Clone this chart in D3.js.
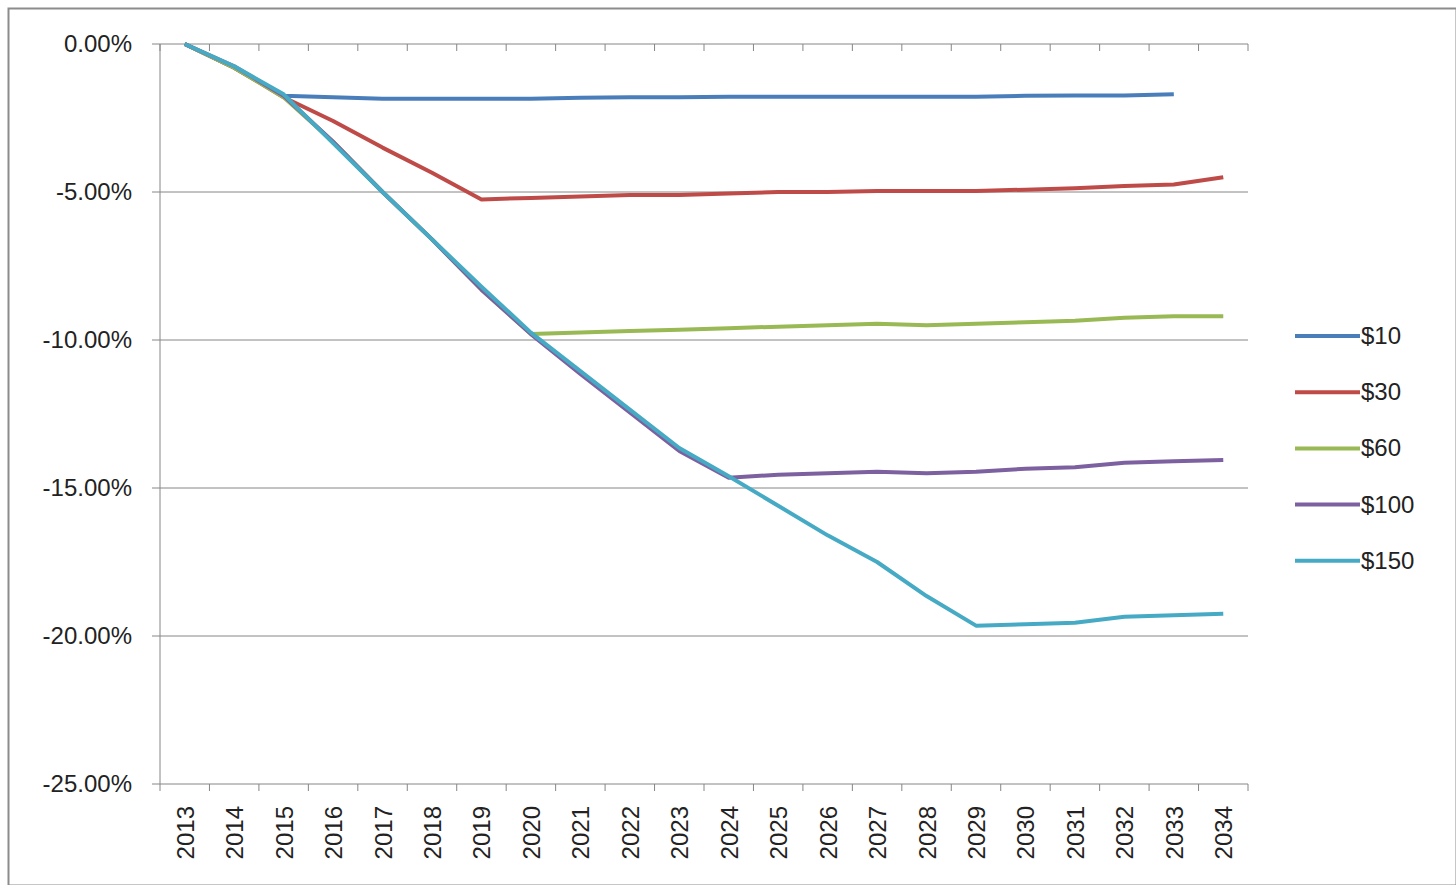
<!DOCTYPE html>
<html><head><meta charset="utf-8">
<script src="https://cdn.jsdelivr.net/npm/d3@7"></script>
<style>body{margin:0;background:#fff;font-family:"Liberation Sans",Arial,sans-serif}</style>
</head><body><div id="chart"></div>
<script>
// Data
var years = d3.range(2013, 2035).map(String);
var s10  = [0,-0.8,-1.75,-1.8,-1.85,-1.85,-1.85,-1.85,-1.82,-1.8,-1.8,-1.78,-1.78,-1.78,-1.78,-1.78,-1.78,-1.75,-1.74,-1.74,-1.7,null];
var s30  = [0,-0.8,-1.8,-2.6,-3.5,-4.35,-5.25,-5.2,-5.15,-5.1,-5.1,-5.05,-5.0,-5.0,-4.97,-4.97,-4.97,-4.92,-4.87,-4.8,-4.75,-4.5];
var s60  = [0,-0.8,-1.8,-3.3,-5.0,-6.6,-8.3,-9.8,-9.75,-9.7,-9.65,-9.6,-9.55,-9.5,-9.45,-9.5,-9.45,-9.4,-9.35,-9.25,-9.2,-9.2];
var s100 = [0,-0.75,-1.75,-3.3,-5.0,-6.6,-8.3,-9.8,-11.15,-12.45,-13.75,-14.65,-14.55,-14.5,-14.45,-14.5,-14.45,-14.35,-14.3,-14.15,-14.1,-14.05];
var s150 = [0,-0.75,-1.7,-3.35,-5.0,-6.6,-8.2,-9.75,-11.05,-12.35,-13.65,-14.6,-15.6,-16.6,-17.5,-18.65,-19.65,-19.6,-19.55,-19.35,-19.3,-19.25];
var names  = ['$10','$30','$60','$100','$150'];
var colors = ['#4a7ebb','#be4b48','#98b954','#7d60a0','#46aac5'];
var series = [s10, s30, s60, s100, s150];
var yTicks = [0,-5,-10,-15,-20,-25];

var W = 1456, H = 885, L = 160, R = 1248, T = 44, B = 784;
var svg = d3.select('#chart').append('svg').attr('width', W).attr('height', H);
svg.append('rect').attr('x', 8.5).attr('y', 8.5).attr('width', W - 8).attr('height', H - 8)
   .attr('fill', 'none').attr('stroke', '#8c8c8c').attr('stroke-width', 2);

var x = d3.scaleBand().domain(years).range([L, R]);
var y = d3.scaleLinear().domain([-25, 0]).range([B, T]);

// Gridlines
svg.selectAll('.grid').data(yTicks).enter().append('line')
   .attr('x1', L - 8).attr('x2', R).attr('y1', function(d){ return y(d); }).attr('y2', function(d){ return y(d); })
   .attr('stroke', '#868686').attr('stroke-width', 1);
svg.append('line').attr('x1', L).attr('x2', L).attr('y1', T).attr('y2', B).attr('stroke', '#868686');

// Y labels
svg.selectAll('.yl').data(yTicks).enter().append('text')
   .attr('x', 132).attr('y', function(d){ return y(d) + 8; }).attr('text-anchor', 'end')
   .attr('font-size', 24).attr('fill', '#222')
   .text(function(d){ return d.toFixed(2) + '%'; });

// X tick marks (axis crosses at 0)
var bounds = years.map(function(d){ return x(d); }).concat([R]);
svg.selectAll('.xt').data(bounds).enter().append('line')
   .attr('x1', function(d){ return d; }).attr('x2', function(d){ return d; })
   .attr('y1', T).attr('y2', T + 7).attr('stroke', '#868686');
svg.selectAll('.xtb').data(bounds).enter().append('line')
   .attr('x1', function(d){ return d; }).attr('x2', function(d){ return d; })
   .attr('y1', B).attr('y2', B + 7).attr('stroke', '#868686');

// X labels
svg.selectAll('.xl').data(years).enter().append('text')
   .attr('transform', function(d){ return 'translate(' + (x(d) + x.bandwidth()/2 + 9) + ',806) rotate(-90)'; })
   .attr('text-anchor', 'end').attr('font-size', 24).attr('fill', '#222')
   .text(function(d){ return d; });

// Lines
var line = d3.line()
   .defined(function(d){ return d != null; })
   .x(function(d, i){ return x(years[i]) + x.bandwidth()/2; })
   .y(function(d){ return y(d); });
series.forEach(function(s, i){
  svg.append('path').attr('d', line(s)).attr('fill', 'none')
     .attr('stroke', colors[i]).attr('stroke-width', 4).attr('stroke-linejoin', 'round');
});

// Legend
names.forEach(function(n, i){
  var ly = 336 + i * 56.2;
  svg.append('line').attr('x1', 1295).attr('x2', 1360).attr('y1', ly).attr('y2', ly)
     .attr('stroke', colors[i]).attr('stroke-width', 4);
  svg.append('text').attr('x', 1361).attr('y', ly + 8).attr('font-size', 24).attr('fill', '#222').text(n);
});
</script></body></html>
